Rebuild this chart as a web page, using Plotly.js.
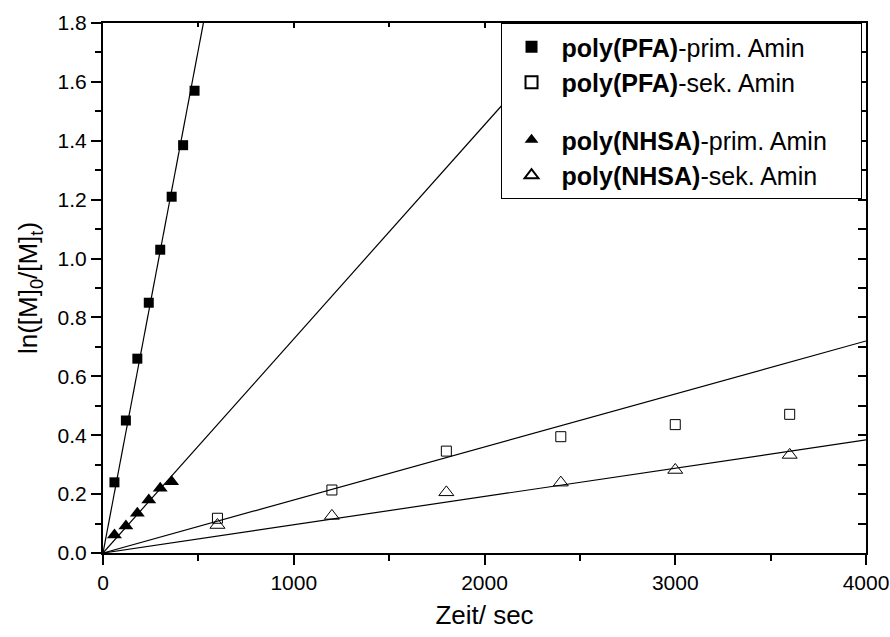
<!DOCTYPE html>
<html>
<head>
<meta charset="utf-8">
<script src="https://cdn.plot.ly/plotly-3.0.1.min.js"></script>
<style>html,body{margin:0;padding:0;background:#fff;}#chart{width:890px;height:637px;}</style>
</head>
<body>
<div id="chart"></div>
<script>
// Data
const timePrim = [60, 120, 180, 240, 300, 360, 420, 480];
const pfaPrim = [0.24, 0.45, 0.66, 0.85, 1.03, 1.21, 1.385, 1.57];
const timeNhsaPrim = [60, 120, 180, 240, 300, 360];
const nhsaPrim = [0.061, 0.092, 0.135, 0.18, 0.22, 0.242];
const timeSek = [600, 1200, 1800, 2400, 3000, 3600];
const pfaSek = [0.118, 0.214, 0.346, 0.395, 0.436, 0.471];
const nhsaSek = [0.095, 0.126, 0.206, 0.239, 0.282, 0.333];
// Linear fit lines (slope per second, through origin)
const fitSlopes = [0.00342, 0.000727, 0.000180, 0.000096];
const fitRange = [0, 4000];
const seriesNames = [
  '<b>poly(PFA)</b>-prim. Amin',
  '<b>poly(PFA)</b>-sek. Amin',
  '<b>poly(NHSA)</b>-prim. Amin',
  '<b>poly(NHSA)</b>-sek. Amin'
];
const xTicks = [0, 1000, 2000, 3000, 4000];
const yTicks = [0, 0.2, 0.4, 0.6, 0.8, 1.0, 1.2, 1.4, 1.6, 1.8];

const FONT = 'Arial, "Liberation Sans", sans-serif';
const PAD = '&nbsp;&nbsp;&nbsp;&nbsp;';

const traces = [];
fitSlopes.forEach(function(s) {
  traces.push({
    x: fitRange, y: fitRange.map(function(t){ return s * t; }),
    mode: 'lines', line: {color: '#000', width: 1.2},
    showlegend: false, hoverinfo: 'skip'
  });
});
traces.push({
  x: timePrim, y: pfaPrim, mode: 'markers', name: seriesNames[0] + PAD, legendgroup: 'a',
  marker: {symbol: 'square', size: 10, color: '#000', line: {width: 0}}
});
traces.push({
  x: timeSek, y: pfaSek, mode: 'markers', name: seriesNames[1], legendgroup: 'a',
  marker: {symbol: 'square-open', size: 10, color: '#000', line: {width: 1}}
});
traces.push({
  x: timeNhsaPrim, y: nhsaPrim, mode: 'markers', name: seriesNames[2] + PAD, legendgroup: 'b',
  marker: {symbol: 'triangle-up', size: 13, color: '#000', line: {width: 0}}
});
traces.push({
  x: timeSek, y: nhsaSek, mode: 'markers', name: seriesNames[3], legendgroup: 'b',
  marker: {symbol: 'triangle-up-open', size: 13, color: '#000', line: {width: 1}}
});
// empty trace to activate mirror axes
traces.push({x: [], y: [], xaxis: 'x2', yaxis: 'y2', showlegend: false, mode: 'markers'});

const layout = {
  width: 890, height: 637,
  margin: {l: 103, r: 24, t: 23, b: 84},
  paper_bgcolor: '#fff', plot_bgcolor: '#fff',
  font: {family: FONT, color: '#000', size: 21},
  showlegend: true,
  legend: {
    x: 0.521, xanchor: 'left', y: 1, yanchor: 'top',
    bgcolor: '#fff', bordercolor: '#000', borderwidth: 1,
    font: {family: FONT, size: 25, color: '#000'},
    traceorder: 'grouped', tracegroupgap: 22,
    itemsizing: 'constant', itemwidth: 50
  },
  xaxis: {
    range: [0, 4000], tickvals: xTicks, ticktext: xTicks.map(String),
    ticks: 'outside', ticklen: 10, tickwidth: 2, tickcolor: '#000',
    showline: true, linecolor: '#000', linewidth: 2,
    showgrid: false, zeroline: false,
    minor: {dtick: 500, tick0: 0, ticks: 'outside', ticklen: 6, tickwidth: 2, tickcolor: '#000', showgrid: false},
    tickfont: {size: 21},
    title: {text: 'Zeit/ sec', font: {size: 26}, standoff: 13}
  },
  yaxis: {
    range: [0, 1.8], tickvals: yTicks, ticktext: yTicks.map(function(v){ return v.toFixed(1); }),
    ticks: 'outside', ticklen: 10, tickwidth: 2, tickcolor: '#000',
    showline: true, linecolor: '#000', linewidth: 2,
    showgrid: false, zeroline: false,
    minor: {dtick: 0.1, tick0: 0, ticks: 'outside', ticklen: 6, tickwidth: 2, tickcolor: '#000', showgrid: false},
    tickfont: {size: 21},
    title: {text: 'ln([M]<sub>0</sub>/[M]<sub>t</sub>)', font: {size: 26}, standoff: 12}
  },
  xaxis2: {
    overlaying: 'x', side: 'top', anchor: 'y2', range: [0, 4000], tickvals: xTicks,
    showticklabels: false, ticks: 'inside', ticklen: 5, tickwidth: 2, tickcolor: '#000',
    showline: true, linecolor: '#000', linewidth: 2, showgrid: false, zeroline: false,
    minor: {dtick: 500, tick0: 0, ticks: 'inside', ticklen: 4, tickwidth: 2, tickcolor: '#000', showgrid: false}
  },
  yaxis2: {
    overlaying: 'y', side: 'right', anchor: 'x2', range: [0, 1.8], tickvals: yTicks,
    showticklabels: false, ticks: 'inside', ticklen: 8, tickwidth: 2, tickcolor: '#000',
    showline: true, linecolor: '#000', linewidth: 2, showgrid: false, zeroline: false,
    minor: {dtick: 0.1, tick0: 0, ticks: 'inside', ticklen: 8, tickwidth: 2, tickcolor: '#000', showgrid: false}
  }
};

Plotly.newPlot('chart', traces, layout, {displayModeBar: false, staticPlot: true});
</script>
</body>
</html>
